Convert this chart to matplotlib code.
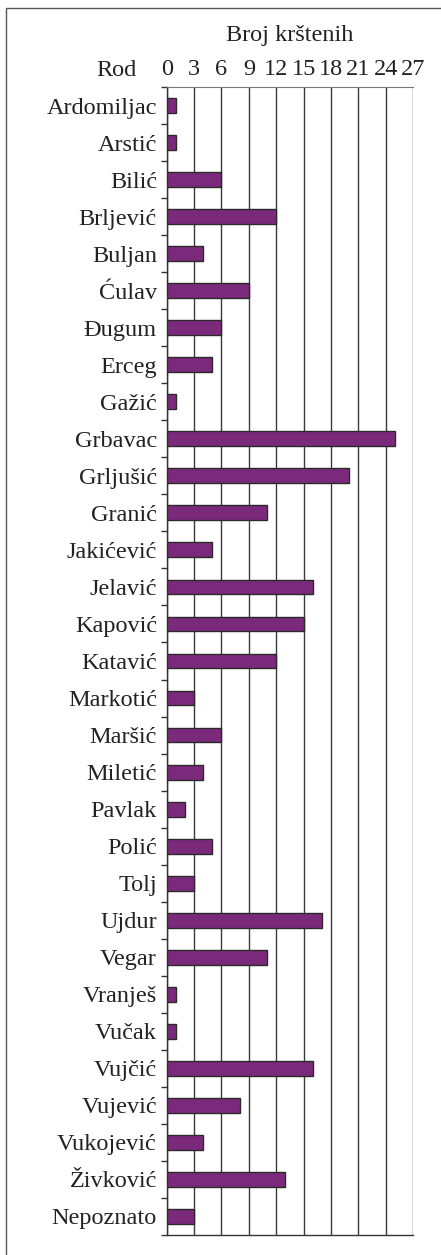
import matplotlib.pyplot as plt
import numpy as np
from matplotlib.patches import Rectangle

# data
rodovi = ["Ardomiljac", "Arstić", "Bilić", "Brljević", "Buljan", "Ćulav", "Đugum",
          "Erceg", "Gažić", "Grbavac", "Grljušić", "Granić", "Jakićević", "Jelavić",
          "Kapović", "Katavić", "Markotić", "Maršić", "Miletić", "Pavlak", "Polić",
          "Tolj", "Ujdur", "Vegar", "Vranješ", "Vučak", "Vujčić", "Vujević",
          "Vukojević", "Živković", "Nepoznato"]
krsteni = [1, 1, 6, 12, 4, 9, 6, 5, 1, 25, 20, 11, 5, 16, 15, 12, 3, 6, 4, 2, 5,
           3, 17, 11, 1, 1, 16, 8, 4, 13, 3]
x_ticks = [0, 3, 6, 9, 12, 15, 18, 21, 24, 27]

plt.rcParams['font.family'] = ['Liberation Serif', 'DejaVu Serif']
fs = 17.5

fig = plt.figure(figsize=(4.41, 12.55), dpi=100)
W, H = 441, 1255
ax = fig.add_axes([166.7 / W, 1 - 1235 / H, (413.3 - 166.7) / W, (1235 - 87) / H])

y = np.arange(len(rodovi))
ax.barh(y, krsteni, height=0.4, color='#7b2a7b', edgecolor='#2a2a2a', linewidth=1.0, zorder=3)

ax.set_xlim(0, 27)
ax.set_ylim(len(rodovi) - 0.5, -0.5)
ax.set_xticks(x_ticks)
ax.xaxis.tick_top()
ax.tick_params(axis='x', length=0, pad=5, labelsize=fs, colors='#222222')
ax.grid(axis='x', color='#3a3a3a', linewidth=1.0, zorder=0)

ax.set_yticks(y)
ax.set_yticklabels(rodovi)
ax.set_yticks(np.arange(len(rodovi) + 1) - 0.5, minor=True)
ax.tick_params(axis='y', which='major', length=0, pad=7, labelsize=fs, colors='#222222')
ax.tick_params(axis='y', which='minor', length=4, width=1, color='#333333', direction='out')

for s in ['left', 'bottom']:
    ax.spines[s].set_color('#333333')
    ax.spines[s].set_linewidth(1.0)
ax.spines['top'].set_color('#777777')
ax.spines['top'].set_linewidth(0.8)
ax.spines['right'].set_visible(False)

fig.text(137 / W, 1 - 70 / H, "Rod", ha='right', va='center', fontsize=fs, color='#222222')
fig.text(290 / W, 1 - 35 / H, "Broj krštenih", ha='center', va='center', fontsize=fs, color='#222222')

# outer frame (right and bottom edges are outside the image)
fig.patches.append(Rectangle((6 / W, -0.1), 1.2, 1 - 8 / H + 0.1, transform=fig.transFigure,
                             fill=False, edgecolor='#555555', linewidth=1.0))

fig.savefig("out.png", dpi=100)
